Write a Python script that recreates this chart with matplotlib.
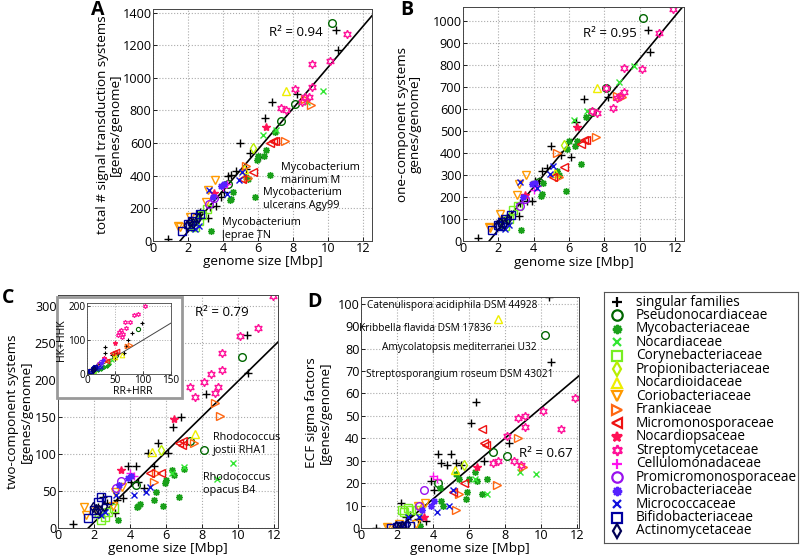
import numpy as np
import matplotlib
matplotlib.use('Agg')
import matplotlib.pyplot as plt
from matplotlib.patches import Rectangle

plt.rcParams['font.family'] = ['Open Sans', 'DejaVu Sans']
plt.rcParams['font.size'] = 9

# ---- data ----
families = ['singular families', 'Pseudonocardiaceae', 'Mycobacteriaceae', 'Nocardiaceae',
            'Corynebacteriaceae', 'Propionibacteriaceae', 'Nocardioidaceae', 'Coriobacteriaceae',
            'Frankiaceae', 'Micromonosporaceae', 'Nocardiopsaceae', 'Streptomycetaceae',
            'Cellulomonadaceae', 'Promicromonosporaceae', 'Microbacteriaceae', 'Micrococcaceae',
            'Bifidobacteriaceae', 'Actinomycetaceae']

genome_size = [
    [0.85, 2.2, 2.5, 2.7, 3.15, 3.25, 3.6, 3.9, 4.05, 4.3, 4.45, 4.75, 4.97, 5.3, 5.55, 6.1, 6.4, 6.82, 8.2, 10.46, 10.55],
    [4.3, 7.3, 8.1, 10.2],
    [3.3, 4.4, 4.45, 4.55, 5.3, 5.45, 5.83, 6.69, 5.91, 6.0, 6.34, 6.45, 6.97],
    [6.3, 7.0, 8.8, 9.7],
    [2.3, 2.4, 2.6, 2.8, 3.1],
    [5.7],
    [5.2, 7.6],
    [1.45, 1.55, 2.1, 3.05, 3.15, 3.55],
    [5.3, 5.45, 7.55, 8.7, 9.0],
    [5.1, 5.7, 6.7, 6.85, 6.95],
    [3.5, 6.45],
    [7.3, 7.6, 8.1, 8.5, 8.7, 8.9, 9.1, 9.1, 10.1, 11.1, 11.9],
    [4.0, 4.2],
    [3.2, 3.5],
    [3.4, 3.9, 4.05],
    [2.4, 2.6, 3.2, 4.2, 4.9, 5.1],
    [1.65, 2.0, 2.1, 2.2, 2.4, 2.7],
    [1.95, 2.1, 2.3, 2.55],
]

total_sts = [
    [12, 120, 165, 178, 139, 210, 215, 270, 300, 400, 405, 430, 600, 440, 538, 515, 753, 855, 900, 1291, 1172],
    [348, 737, 839, 1336],
    [61, 252, 258, 303, 390, 380, 272, 405, 495, 520, 520, 560, 667],
    [647, 680, 850, 921],
    [100, 85, 120, 160, 194],
    [573],
    [440, 921],
    [95, 85, 150, 241, 313, 374],
    [462, 385, 610, 870, 835],
    [380, 425, 600, 610, 615],
    [293, 698],
    [818, 804, 933, 850, 882, 880, 943, 1087, 1101, 1271, np.nan],
    [330, 350],
    [225, 262],
    [270, 340, 350],
    [75, 95, 313, 290, 374, 420],
    [62, 105, 90, 120, 150, 165],
    [100, 115, 110, 140],
]

one_comp = [
    [12, 105, 110, 125, 114, 171, 180, 183, 275, 273, 320, 330, 433, 305, 391, 383, 542, 644, 656, 959, 860],
    [270, 585, 697, 1015],
    [50, 205, 215, 262, 320, 300, 229, 348, 420, 455, 430, 455, 565],
    [550, 591, 724, 797],
    [85, 70, 100, 140, 160],
    [436],
    [310, 697],
    [65, 60, 125, 209, 260, 300],
    [398, 292, 474, 660, 655],
    [290, 338, 441, 459, 460],
    [210, 520],
    [590, 580, 697, 606, 650, 660, 679, 788, 782, 947, 1053],
    [230, 250],
    [160, 190],
    [200, 260, 265],
    [55, 75, 270, 240, 305, 340],
    [50, 75, 68, 85, 100, 120],
    [75, 80, 78, 100],
]

two_comp = [
    [5, 28, 42, 34, 20, 38, 40, 84, 62, 84, 62, 54, 102, 84, 115, 101, 137, 150, 181, 261, 209],
    [58, 118, 105, 231],
    [11, 28, 30, 32, 38, 48, 30, 42, 61, 65, 78, 72, 80],
    [75, 83, 66, 88],
    [20, 11, 15, 22, 27],
    [105],
    [103, 127],
    [28, 18, 25, 30, 49, 56],
    [62, 75, 115, 169, 151],
    [74, 75, 115, 112, 118],
    [78, 147],
    [190, 177, 198, 208, 183, 190, 213, 237, 259, 271, 313],
    [75, 70],
    [54, 63],
    [58, 68, 70],
    [18, 22, 44, 45, 48, 55],
    [14, 25, 20, 35, 42, 38],
    [28, 26, 25, 30],
]

ecf_sigma = [
    [0, 11, 5, 6, 4, 4, 3, 21, 17, 33, 29, 28, 33, 29, 28, 47, 56, 30, 38, 103, 74],
    [20, 34, 32, 86],
    [1, 18, 12, 10, 24, 22, 13, 15, 16, 22, 25, 21, 22],
    [22, 15, 25, 24],
    [8, 7, 9, 8, 8],
    [28],
    [26, 93],
    [0.5, 0, 2, 2, 10, 11],
    [8, 15, 19, 40, 27],
    [16, 20, 44, 38, 37],
    [5, 27],
    [29, 30, 41, 30, 49, 28, 50, 45, 52, 44, 58],
    [23, 22],
    [10, 17],
    [8, 10, 12],
    [2, 5, 5, 7, 10, 17],
    [0, 0.5, 1, 1, 1, 1],
    [1, 0.5, 1, 2],
]

# inset: response regulators vs histidine kinases
inset_rr = [
    [98, 80, 73, 69, 66, 32, 32, 50, 45, 20, 15, 10, 3],
    [91, 52], [30, 25, 35, 40, 20, 28, 5], [40, 45], [10, 12, 8], [48], [62, 50],
    [12, 8, 22], [77, 72, 35], [45, 50, 53, 35], [50, 30],
    [103, 91, 84, 76, 67, 60, 65, 58, 70, 55, 62],
    [30], [25, 22], [28, 25], [25, 20, 18, 8], [8, 10, 15, 12, 5], [10, 13, 11],
]
inset_hk = [
    [150, 122, 100, 81, 62, 62, 80, 43, 57, 30, 20, 12, 2],
    [131, 55], [20, 15, 25, 30, 12, 22, 3], [35, 40], [12, 10, 8], [55], [57, 50],
    [14, 10, 27], [86, 81, 40], [62, 65, 67, 38], [90, 48],
    [200, 178, 173, 152, 152, 130, 118, 125, 135, 115, 110],
    [45], [35, 30], [40, 33], [20, 22, 15, 6], [10, 15, 20, 18, 8], [12, 15, 13],
]

# linear fits: (slope, x-intercept) and R^2
fits = [(126.0, 1.54), (97.3, 1.48), (23.9, 1.68), (6.78, 2.09)]
r2_values = [0.94, 0.95, 0.79, 0.67]

# ---- styles ----
markers = ['+', 'o', (8, 2, 0), 'x', 's', 'd', '^', 'v', '>', '<', '*', (6, 1, 0),
           '+', 'o', (8, 2, 0), 'x', 's', 'd']
colors = ['#000000', '#006600', '#1aa01a', '#33e633', '#77ee22', '#b8ee00', '#eeee00', '#ff9900',
          '#ff6611', '#ee1111', '#ff1155', '#ff1199', '#ff11ee', '#9911ee', '#5522ff', '#1111dd',
          '#0000a0', '#000055']
open_marker = [False, True, False, False, True, True, True, True, True, True, False, True,
               False, True, False, False, True, True]
size_scale = [1.1, 1.0, 0.9, 0.75, 1.0, 1.0, 1.1, 1.1, 1.1, 1.1, 1.1, 1.1,
              1.1, 1.0, 0.9, 0.75, 1.0, 1.0]

W, H = 800, 557
fig = plt.figure(figsize=(8, 5.57), dpi=100)


def px_axes(l, t, r, b):
    return fig.add_axes([l / W, 1 - b / H, (r - l) / W, (b - t) / H])


def draw_families(ax, xs, ys, ms=5.5, mew=1.0):
    for i in range(len(families)):
        ax.plot(xs[i], ys[i], linestyle='none', marker=markers[i], color=colors[i],
                mfc='none' if open_marker[i] else colors[i], ms=ms * size_scale[i], mew=mew)


def style_axes(ax, xmax, ymax, yticks, ylabel, ylab_x):
    ax.set_xlim(0, xmax)
    ax.set_ylim(0, ymax)
    ax.set_xticks(range(0, 13, 2))
    ax.set_yticks(yticks)
    ax.grid(True, linestyle=':', color='#aaaaaa', linewidth=0.8)
    ax.set_axisbelow(True)
    ax.tick_params(direction='in', length=3, width=0.6, labelsize=9.1, pad=1)
    for s in ax.spines.values():
        s.set_linewidth(0.7)
        s.set_color('#444444')
    ax.set_xlabel('genome size [Mbp]', fontsize=9.7)
    ax.xaxis.set_label_coords(0.5, -0.062)
    ax.set_ylabel(ylabel, fontsize=9.7, linespacing=1.05)
    ax.yaxis.set_label_coords(ylab_x, 0.5)


def draw_fit(ax, fit):
    x = np.array(ax.get_xlim())
    slope, x0 = fit
    ax.plot(x, slope * (x - x0), color='black', lw=1.2, zorder=1)


# ---- panel A ----
axA = px_axes(153, 9, 372, 241)
style_axes(axA, 12.5, 1422, range(0, 1401, 200),
           'total # signal transduction systems\n[genes/genome]', -0.14)
draw_fit(axA, fits[0])
draw_families(axA, genome_size, total_sts)
axA.text(6.6, 1280, f'R² = {r2_values[0]}', fontsize=9.5, va='center')
axA.text(7.3, 485, 'Mycobacterium\nmarinum M', fontsize=7.8, va='top', linespacing=1.3)
axA.text(6.28, 331, 'Mycobacterium\nulcerans Agy99', fontsize=7.8, va='top', linespacing=1.3)
axA.text(3.93, 147, 'Mycobacterium\nleprae TN', fontsize=7.8, va='top', linespacing=1.3)

# ---- panel B ----
axB = px_axes(463, 7, 684, 241)
style_axes(axB, 12.5, 1064, range(0, 1001, 100),
           'one-component systems\ngenes/genome]', -0.185)
draw_fit(axB, fits[1])
draw_families(axB, genome_size, one_comp)
axB.text(6.8, 945, f'R² = {r2_values[1]}', fontsize=9.5, va='center')

# ---- panel C ----
axC = px_axes(58, 295, 278, 528)
style_axes(axC, 12.2, 315, range(0, 301, 50),
           'two-component systems\n[genes/genome]', -0.115)
draw_fit(axC, fits[2])
draw_families(axC, genome_size, two_comp)
axC.text(7.6, 292, f'R² = {r2_values[2]}', fontsize=9.5, va='center')
axC.text(8.6, 130, 'Rhodococcus\njostii RHA1', fontsize=7.8, va='top', linespacing=1.3)
axC.text(8.05, 76, 'Rhodococcus\nopacus B4', fontsize=7.8, va='top', linespacing=1.3)

# inset frame and inset axes
fig.patches.append(Rectangle((57 / W, 1 - 398 / H), 125 / W, 101 / H, transform=fig.transFigure,
                             facecolor='white', edgecolor='#999999', lw=2.0, zorder=1))
axI = px_axes(87, 303, 171, 374)
axI.set_zorder(2)
axI.set_xlim(0, 150)
axI.set_ylim(0, 209)
axI.set_xticks([0, 50, 100, 150])
axI.set_yticks([0, 100, 200])
axI.grid(True, linestyle=':', color='#aaaaaa', linewidth=0.7)
axI.set_axisbelow(True)
axI.tick_params(direction='in', length=2, width=0.5, labelsize=7.2, pad=1)
for s in axI.spines.values():
    s.set_linewidth(0.6)
    s.set_color('#444444')
xl = np.array(axI.get_xlim())
axI.plot(xl, xl, color='#444444', lw=0.7)
draw_families(axI, inset_rr, inset_hk, ms=3.0, mew=0.8)
axI.set_xlabel('RR+HRR', fontsize=7.6)
axI.xaxis.set_label_coords(0.54, -0.175)
axI.set_ylabel('HK+HHK', fontsize=7.6)
axI.yaxis.set_label_coords(-0.235, 0.48)

# ---- panel D ----
axD = px_axes(361, 297, 579, 528)
style_axes(axD, 12.1, 103, range(0, 101, 10),
           'ECF sigma factors\n[genes/genome]', -0.135)
draw_fit(axD, fits[3])
draw_families(axD, genome_size, ecf_sigma)
axD.text(8.75, 33, f'R² = {r2_values[3]}', fontsize=9.5, va='center')
axD.text(0.35, 99, 'Catenulispora acidiphila DSM 44928', fontsize=7.3, va='center')
axD.text(-0.1, 89, 'Kribbella flavida DSM 17836', fontsize=7.3, va='center')
axD.text(1.15, 80.5, 'Amycolatopsis mediterranei U32', fontsize=7.3, va='center')
axD.text(0.3, 68.5, 'Streptosporangium roseum DSM 43021', fontsize=7.3, va='center')

# panel letters
for lab, (x, y) in zip('ABCD', [(91, 15), (400, 15), (2, 303), (307, 307)]):
    fig.text(x / W, 1 - y / H, lab, fontsize=14, fontweight='bold', va='baseline')

# ---- legend (drawn in its own box, in pixel units) ----
axL = px_axes(604, 292, 798, 543)
axL.set_xlim(0, 194)
axL.set_ylim(251, 0)
axL.set_xticks([])
axL.set_yticks([])
for s in axL.spines.values():
    s.set_linewidth(0.8)
    s.set_color('#555555')
for i, name in enumerate(families):
    yy = 10 + i * 13.47
    axL.plot([13], [yy], linestyle='none', marker=markers[i], color=colors[i],
             mfc='none' if open_marker[i] else colors[i], ms=7.5 * min(size_scale[i], 1.0),
             mew=1.6)
    axL.text(32, yy, name, fontsize=9.8, va='center', ha='left')

fig.savefig('out.png', dpi=100)
